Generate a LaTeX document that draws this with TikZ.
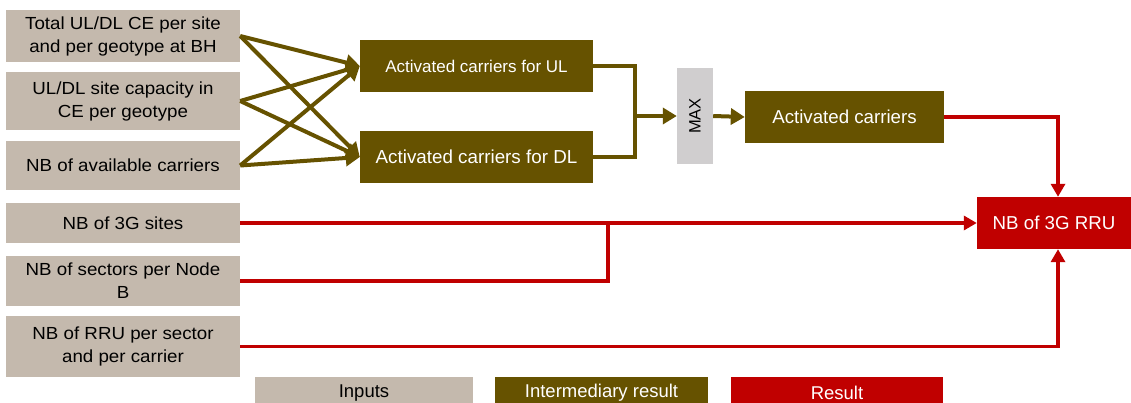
\documentclass[tikz,border=0pt]{standalone}
\usepackage{fontspec}
\setmainfont{Liberation Sans}
\newfontfamily\inpfont[FakeStretch=1.07]{Liberation Sans}
\usetikzlibrary{arrows.meta}
\definecolor{inpgray}{HTML}{C4B9AD}
\definecolor{brownres}{HTML}{665200}
\definecolor{redres}{HTML}{C00000}
\definecolor{maxgray}{HTML}{D0CECF}
\tikzset{
  inp/.style={fill=inpgray, text=black, minimum width=234pt, align=center, inner sep=0pt, font=\inpfont\fontsize{17.5}{23}\selectfont},
  inter/.style={fill=brownres, text=white, align=center, inner sep=0pt, font=\fontsize{17}{21}\selectfont},
  res/.style={fill=redres, text=white, align=center, inner sep=0pt, font=\fontsize{18.7}{22}\selectfont},
  legbox/.style={minimum height=32pt, inner sep=0pt, font=\fontsize{18.5}{20}\selectfont},
  brownarr/.style={draw=brownres, line width=4pt, -{Triangle[length=14pt,width=16pt]}},
  brownline/.style={draw=brownres, line width=4pt},
  redarr/.style={draw=redres, line width=3.5pt, -{Triangle[length=13pt,width=14pt]}},
  redline/.style={draw=redres, line width=3.5pt},
}
\begin{document}
\begin{tikzpicture}[x=1pt,y=-1pt]
\useasboundingbox (0,0) rectangle (1131,403);
% inputs
\node[inp, minimum height=52pt] (i1) at (123,36) {Total UL/DL CE per site\\and per geotype at BH};
\node[inp, minimum height=58pt] (i2) at (123,101) {UL/DL site capacity in\\CE per geotype};
\node[inp, minimum height=49pt] (i3) at (123,165.5) {NB of available carriers};
\node[inp, minimum height=40pt] (i4) at (123,223) {NB of 3G sites};
\node[inp, minimum height=50pt] (i5) at (123,281) {NB of sectors per Node\\B};
\node[inp, minimum height=61pt] (i6) at (123,346.5) {NB of RRU per sector\\and per carrier};
% intermediates
\node[inter, minimum width=233pt, minimum height=52pt] (ul) at (476.5,66) {Activated carriers for UL};
\node[inter, minimum width=233pt, minimum height=52pt, font=\fontsize{18.8}{21}\selectfont] (dl) at (476.5,157) {Activated carriers for DL};
\node[fill=maxgray, minimum width=36pt, minimum height=96pt, inner sep=0pt] (max) at (695,116) {};
\node[rotate=90, font=\fontsize{16.5}{18}\selectfont, text=black] (maxt) at (max.center) {MAX};
\node[inter, minimum width=199pt, minimum height=52pt, font=\fontsize{18.7}{21}\selectfont] (ac) at (844.5,117) {Activated carriers};
\node[res, minimum width=154pt, minimum height=52pt] (rru) at (1054,223) {NB of 3G RRU};
% legend
\node[legbox, fill=inpgray, minimum width=218pt] (lg1) at (364,393) {Inputs};
\node[legbox, fill=brownres, text=white, minimum width=213pt] (lg2) at (601.5,393) {Intermediary result};
\node[legbox, fill=redres, text=white, minimum width=212pt] (lg3) at (837,393) {Result};
% brown connectors
\foreach \s in {i1,i2,i3}{
  \draw[brownarr] (\s.east) -- (ul.west);
  \draw[brownarr] (\s.east) -- (dl.west);
}
\coordinate (j1) at (635,116);
\draw[brownline] (ul.east) -| (j1);
\draw[brownline] (dl.east) -| (j1);
\draw[brownarr] (j1) -- (max.west);
\draw[brownarr] (max.east) -- (ac.west);
% red connectors
\coordinate (rn) at ([xshift=4pt]rru.north);
\coordinate (rs) at ([xshift=4pt]rru.south);
\coordinate (j2) at (608,223);
\draw[redarr] (ac.east) -| (rn);
\draw[redarr] (i4.east) -- (rru.west);
\draw[redline] (i5.east) -| (j2);
\draw[redarr] (i6.east) -| (rs);
\end{tikzpicture}
\end{document}
